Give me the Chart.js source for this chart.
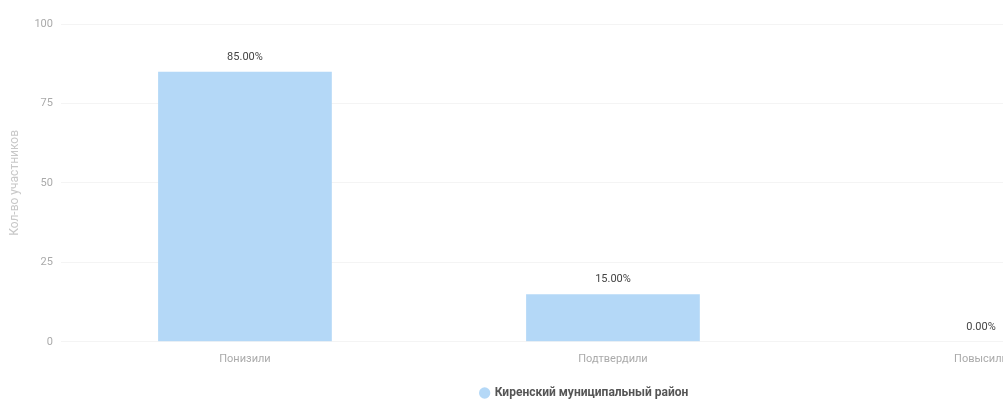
<!DOCTYPE html>
<html>
<head>
<meta charset="utf-8">
<script src="https://cdn.jsdelivr.net/npm/chart.js@4.4.1/dist/chart.umd.min.js"></script>
<style>
  html, body { margin: 0; padding: 0; background: #fff; overflow: hidden; }
  #wrap { width: 1003px; height: 401px; overflow: hidden; }
  canvas { display: block; }
</style>
</head>
<body>
<div id="wrap"><canvas id="chart" width="1176" height="401"></canvas></div>
<script>
// Распределение участников по изменению результата
const categories  = ['Понизили', 'Подтвердили', 'Повысили'];
const seriesName  = 'Киренский муниципальный район';
const seriesValues = [85, 15, 0];
const yTicks      = [0, 25, 50, 75, 100];

const FONT = "Roboto, 'Liberation Sans', sans-serif";

// подписи значений над столбцами
const valueLabels = {
  id: 'valueLabels',
  afterDatasetsDraw(chart) {
    const ctx = chart.ctx;
    const meta = chart.getDatasetMeta(0);
    ctx.save();
    ctx.font = '11px ' + FONT;
    ctx.fillStyle = '#444';
    ctx.textAlign = 'center';
    ctx.textBaseline = 'bottom';
    meta.data.forEach((bar, i) => {
      const v = chart.data.datasets[0].data[i];
      ctx.fillText(v.toFixed(2) + '%', bar.x, bar.y - 9);
    });
    ctx.restore();
  }
};

new Chart(document.getElementById('chart'), {
  type: 'bar',
  data: {
    labels: categories,
    datasets: [{
      label: seriesName,
      data: seriesValues,
      backgroundColor: '#b4d8f7',
      borderWidth: 0,
      categoryPercentage: 0.8,
      barPercentage: 0.59,
    }],
  },
  options: {
    responsive: false,
    animation: false,
    devicePixelRatio: 1,
    layout: { padding: { top: 24, right: 11, bottom: -8, left: 4 } },
    plugins: {
      legend: {
        display: true,
        position: 'bottom',
        labels: {
          font: { family: FONT, size: 12, weight: 'bold' },
          color: '#555',
          usePointStyle: true,
          pointStyle: 'circle',
          boxWidth: 8,
          boxHeight: 8,
          padding: 18,
        },
      },
      tooltip: { enabled: false },
    },
    scales: {
      x: {
        ticks: {
          font: { family: FONT, size: 11 },
          color: '#aaa',
          maxRotation: 0,
        },
        grid: { display: false },
        border: { display: false },
      },
      y: {
        min: 0,
        max: 100,
        afterBuildTicks: axis => { axis.ticks = yTicks.map(v => ({ value: v })); },
        title: {
          display: true,
          text: 'Кол-во участников',
          font: { family: FONT, size: 12 },
          color: '#c8c8c8',
        },
        ticks: {
          font: { family: FONT, size: 11 },
          color: '#aaa',
          padding: 8,
        },
        grid: { color: '#f4f4f4', drawTicks: false },
        border: { display: false },
      },
    },
  },
  plugins: [valueLabels],
});
</script>
</body>
</html>
